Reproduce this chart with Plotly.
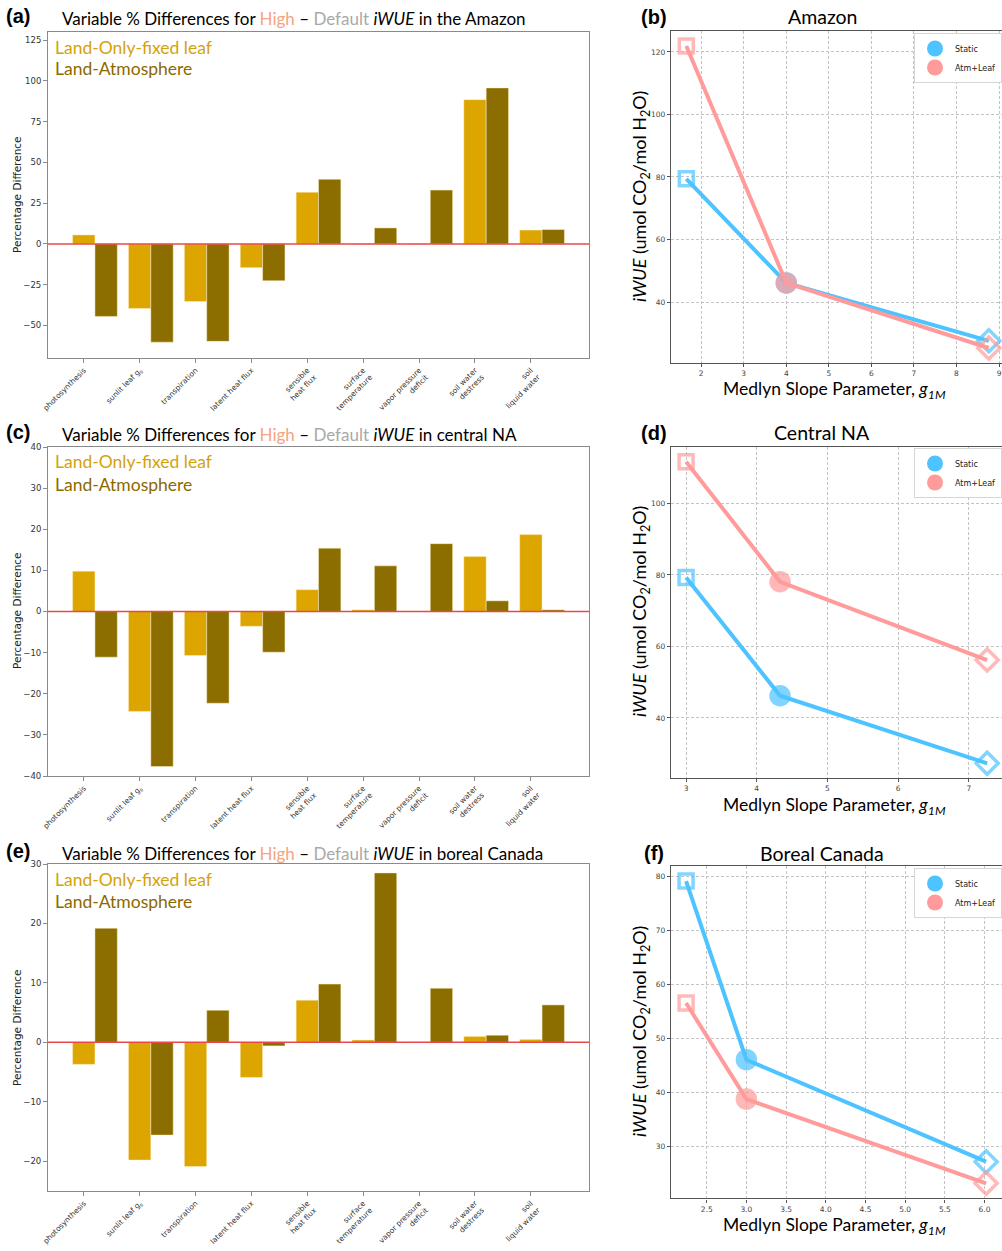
import plotly.graph_objects as go

W, H = 1002, 1251

# ---------------- data ----------------
categories = ["photosynthesis", "sunlit leaf g<sub>s</sub>", "transpiration", "latent heat flux",
              "sensible<br>heat flux", "surface<br>temperature", "vapor pressure<br>deficit",
              "soil water<br>destress", "soil<br>liquid water"]

amazon_land_only = [5.5, -39.6, -35.4, -14.6, 31.7, 0.2, 0.2, 88.5, 8.5]
amazon_land_atm = [-44.5, -60.3, -59.8, -22.6, 39.6, 9.8, 33.0, 95.7, 8.8]
central_land_only = [9.8, -24.3, -10.7, -3.6, 5.3, 0.4, 0.0, 13.4, 18.7]
central_land_atm = [-11.1, -37.7, -22.3, -9.9, 15.4, 11.1, 16.5, 2.6, 0.4]
boreal_land_only = [-3.7, -19.8, -20.9, -5.9, 7.1, 0.4, 0.0, 1.0, 0.5]
boreal_land_atm = [19.2, -15.6, 5.4, -0.6, 9.8, 28.5, 9.1, 1.2, 6.3]

amazon_g1 = [1.65, 4.0, 8.76]
amazon_static = [79.4, 46.1, 27.6]
amazon_atm = [121.9, 46.1, 25.3]
central_g1 = [3.0, 4.33, 7.26]
central_static = [79.3, 46.2, 27.3]
central_atm = [111.7, 78.1, 56.2]
boreal_g1 = [2.24, 3.0, 6.02]
boreal_static = [79.2, 46.1, 27.2]
boreal_atm = [56.6, 38.8, 23.2]

series_names = ["Static", "Atm+Leaf"]
point_symbols = ["square-open", "circle", "diamond-open"]
point_sizes = [14, 18, 17]

# ---------------- styles ----------------
YEL = "#DCA500"
BRN = "#8C6E00"
BLUE = "#4DC3FF"
PINK = "#FF9B9B"
HEAD_FONT = "Lato"
TICK_FONT = "DejaVu Sans"

fig = go.Figure()

bar_panels = [
    ("x", "y", amazon_land_only, amazon_land_atm),
    ("x3", "y3", central_land_only, central_land_atm),
    ("x5", "y5", boreal_land_only, boreal_land_atm),
]
idx = list(range(len(categories)))
for xa, ya, lo, la in bar_panels:
    fig.add_trace(go.Bar(x=idx, y=lo, offset=-0.2, width=0.4, marker=dict(color=YEL, line=dict(color="rgba(255,240,200,0.8)", width=0.6)),
                         xaxis=xa, yaxis=ya, showlegend=False, name="Land-Only-fixed leaf"))
    fig.add_trace(go.Bar(x=idx, y=la, offset=0.2, width=0.4, marker=dict(color=BRN, line=dict(color="rgba(255,240,200,0.8)", width=0.6)),
                         xaxis=xa, yaxis=ya, showlegend=False, name="Land-Atmosphere"))

line_panels = [
    ("x2", "y2", "legend", amazon_g1, amazon_static, amazon_atm),
    ("x4", "y4", "legend2", central_g1, central_static, central_atm),
    ("x6", "y6", "legend3", boreal_g1, boreal_static, boreal_atm),
]
for xa, ya, lg, g1, st, at in line_panels:
    for name, vals, col in [(series_names[0], st, BLUE), (series_names[1], at, PINK)]:
        fig.add_trace(go.Scatter(x=g1, y=vals, mode="lines+markers", xaxis=xa, yaxis=ya,
                                 line=dict(color=col, width=4),
                                 marker=dict(symbol=point_symbols, size=point_sizes, color=col,
                                             line=dict(color=col, width=3.5)),
                                 showlegend=False, name=name))
    for name, col in [(series_names[0], BLUE), (series_names[1], PINK)]:
        fig.add_trace(go.Scatter(x=[None], y=[None], mode="markers", xaxis=xa, yaxis=ya,
                                 marker=dict(symbol="circle", size=16, color=col),
                                 name=name, legend=lg, showlegend=True))

# ---------------- axes ----------------
LX = [48 / W, 589 / W]
RX = [671 / W, 1.0]

def dom(top, bottom):
    return [1 - bottom / H, 1 - top / H]

bar_x = dict(domain=LX, range=[-0.64, 9.04], tickmode="array", tickvals=idx, ticktext=categories,
             tickangle=-45, tickfont=dict(size=7.5, family=TICK_FONT, color="#333"),
             showline=True, mirror=True, linecolor="#8a8a8a", linewidth=1, ticks="outside",
             ticklen=4, tickcolor="#8a8a8a", showgrid=False, zeroline=False, automargin=False)
bar_y = dict(showline=True, mirror=True, linecolor="#8a8a8a", linewidth=1, ticks="outside",
             ticklen=4, tickcolor="#8a8a8a", showgrid=False, zeroline=False, automargin=False,
             tickfont=dict(size=8.5, family=TICK_FONT, color="#333"))

line_ax = dict(showgrid=True, gridcolor="#c4c4c4", griddash="3px,2px", gridwidth=0.8,
               showline=True, mirror=True, linecolor="#555", linewidth=1.3, ticks="outside",
               ticklen=3, tickcolor="#555", zeroline=False, automargin=False,
               tickfont=dict(size=7.5, family=TICK_FONT, color="#444"))

fig.update_layout(
    xaxis=dict(bar_x, anchor="y"),
    yaxis=dict(bar_y, domain=dom(32, 358), range=[-70, 130], dtick=25, tick0=0, anchor="x"),
    xaxis3=dict(bar_x, anchor="y3"),
    yaxis3=dict(bar_y, domain=dom(447, 776), range=[-40, 40], dtick=10, tick0=0, anchor="x3"),
    xaxis5=dict(bar_x, anchor="y5"),
    yaxis5=dict(bar_y, domain=dom(864, 1191), range=[-25, 30], dtick=10, tick0=0, anchor="x5"),
    xaxis2=dict(line_ax, domain=RX, range=[1.29, 9.07], dtick=1, tick0=0, anchor="y2"),
    yaxis2=dict(line_ax, domain=dom(31, 363), range=[20.5, 126.7], dtick=20, tick0=0, anchor="x2"),
    xaxis4=dict(line_ax, domain=RX, range=[2.787, 7.47], dtick=1, tick0=0, anchor="y4"),
    yaxis4=dict(line_ax, domain=dom(446.7, 778.3), range=[23.1, 115.9], dtick=20, tick0=0, anchor="x4"),
    xaxis6=dict(line_ax, domain=RX, range=[2.05, 6.22], dtick=0.5, tick0=0, tickformat=".1f", anchor="y6"),
    yaxis6=dict(line_ax, domain=dom(866, 1198.4), range=[20.4, 82.0], dtick=10, tick0=0, anchor="x6"),
)

# zero reference lines on bar panels
for xa, ya in [("x", "y"), ("x3", "y3"), ("x5", "y5")]:
    fig.add_shape(type="line", xref=f"{xa} domain", yref=ya, x0=0, x1=1, y0=0, y1=0,
                  line=dict(color="#E8484A", width=1.5), layer="above")

# legends
leg_common = dict(xanchor="right", x=1.0, yanchor="top", bgcolor="white", bordercolor="#d6d6d6",
                  borderwidth=1, font=dict(size=8, family=TICK_FONT, color="#222"),
                  itemwidth=30, tracegroupgap=0)
fig.update_layout(
    legend=dict(leg_common, y=1 - 33 / H),
    legend2=dict(leg_common, y=1 - 448 / H),
    legend3=dict(leg_common, y=1 - 868 / H),
)

# ---------------- annotations ----------------
def ann(text, px, py, size, color="black", xanchor="left", yanchor="middle", family=HEAD_FONT, angle=0):
    return dict(text=text, x=px / W, y=1 - py / H, xref="paper", yref="paper", showarrow=False,
                xanchor=xanchor, yanchor=yanchor, textangle=angle,
                font=dict(size=size, color=color, family=family))

annotations = []
regions = [("(a)", "the Amazon", 17, 32, 195), ("(c)", "central NA", 433, 447, 611), ("(e)", "boreal Canada", 852, 864, 1028)]
for lab, reg, ty, top, ymid in regions:
    annotations.append(ann(f"<b>{lab}</b>", 4, ty - 1, 20, family="Liberation Sans"))
    annotations.append(ann("Variable % Differences for <span style='color:#F4A582'>High</span> – "
                           "<span style='color:#A9A9A9'>Default</span> <i>iWUE</i> in " + reg,
                           60, ty + 1, 17))
    annotations.append(ann("Land-Only-fixed leaf", 53, top + 15, 17.5, color="#D4A20A"))
    annotations.append(ann("Land-Atmosphere", 53, top + 37, 17.5, color="#8B6A00"))
    annotations.append(ann("Percentage Difference", 17, ymid, 10.5, color="#222", xanchor="center",
                           family=TICK_FONT, angle=-90))

right = [("(b)", "Amazon", 17, 197, 376), ("(d)", "Central NA", 433, 612, 791.5), ("(f)", "Boreal Canada", 853, 1032, 1211.5)]
for lab, name, ty, ymid, xty in right:
    annotations.append(ann(f"<b>{lab}</b>", 654, ty, 20, xanchor="center", family="Liberation Sans"))
    annotations.append(ann(name, 822, ty, 19.5, xanchor="center"))
    annotations.append(ann("<i>iWUE</i> (umol CO<sub>2</sub>/mol H<sub>2</sub>O)", 640, ymid, 18,
                           xanchor="center", angle=-90))
    annotations.append(ann("Medlyn Slope Parameter, <i>g<sub>1M</sub></i>", 834, xty, 17.5,
                           xanchor="center", yanchor="top"))

fig.update_layout(
    annotations=annotations,
    width=W, height=H, autosize=False,
    margin=dict(l=0, r=0, t=0, b=0, autoexpand=False),
    paper_bgcolor="white", plot_bgcolor="white",
    barmode="overlay",
    showlegend=True,
)

fig.write_html("out.html",
               config={"displayModeBar": False},
               post_script="document.documentElement.style.margin='0';document.body.style.margin='0';"
                           "document.body.style.overflow='hidden';document.documentElement.style.overflow='hidden';"
                           "var gd=document.getElementById('{plot_id}');gd.style.position='fixed';"
                           "gd.style.left='0px';gd.style.top='0px';")
